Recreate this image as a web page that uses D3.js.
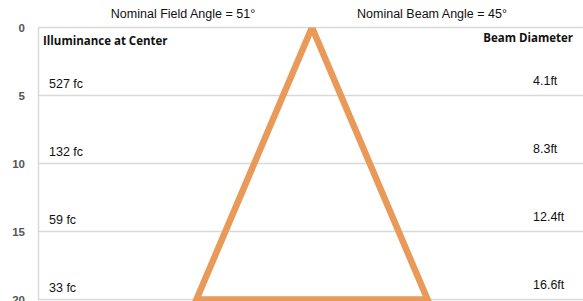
<!DOCTYPE html>
<html><head><meta charset="utf-8">
<script src="https://cdn.jsdelivr.net/npm/d3@7"></script>
<style>body{margin:0;background:#fff}svg{display:block}</style>
</head><body>
<svg id="c" width="583" height="301"></svg>
<script>
const depthTicks = [0, 5, 10, 15, 20];
const beamX = [0, -9.7, 9.7, 0];
const beamDepth = [0, 20, 20, 0];
const illumDepth = [5, 10, 15, 20];
const illumLabels = ["527 fc", "132 fc", "59 fc", "33 fc"];
const diamLabels = ["4.1ft", "8.3ft", "12.4ft", "16.6ft"];
const fieldTitle = "Nominal Field Angle = 51°";
const beamTitle = "Nominal Beam Angle = 45°";

const svg = d3.select("#c");
const W = 583, H = 301;
const y = d3.scaleLinear().domain([0, 20]).range([27.5, 299.5]);
const x = d3.scaleLinear().domain([-23, 23]).range([38, 586]);

// gridlines
svg.append("g").selectAll("line").data(depthTicks).join("line")
  .attr("x1", 38).attr("x2", W).attr("y1", d => y(d)).attr("y2", d => y(d))
  .attr("stroke", "#d9d9d9").attr("stroke-width", 1.5);
// axis
const ax = d3.axisLeft(y).tickValues(depthTicks).tickSize(0).tickPadding(13);
const g = svg.append("g").attr("transform", "translate(38,0)").call(ax);
g.select(".domain").attr("stroke", "#d9d9d9").attr("stroke-width", 1.5);
g.selectAll("text").attr("font-family", "Liberation Sans, Arial, sans-serif")
  .attr("font-size", 11.5).attr("font-weight", "bold").attr("fill", "#555");

// triangle
svg.append("clipPath").attr("id", "pc").append("rect")
  .attr("x", 38).attr("y", y(0)).attr("width", W - 38).attr("height", H);
const pts = beamX.map((v, i) => [v, beamDepth[i]]);
svg.append("path").datum(pts)
  .attr("clip-path", "url(#pc)")
  .attr("d", d3.line().x(d => x(d[0])).y(d => y(d[1])))
  .attr("fill", "none").attr("stroke", "#e99a58").attr("stroke-width", 6.5)
  .attr("stroke-linejoin", "miter");

const font = "Liberation Sans, Arial, sans-serif";
svg.append("text").attr("x", 183).attr("y", 18).attr("text-anchor", "middle")
  .attr("font-family", font).attr("font-size", 12.5).attr("fill", "#111").text(fieldTitle);
svg.append("text").attr("x", 432).attr("y", 18).attr("text-anchor", "middle")
  .attr("font-family", font).attr("font-size", 12.5).attr("fill", "#111").text(beamTitle);

svg.append("text").attr("x", 43).attr("y", 45)
  .attr("font-family", "Open Sans, sans-serif").attr("font-size", 11.5).attr("font-weight", "bold")
  .attr("fill", "#111").text("Illuminance at Center");
svg.append("text").attr("x", 573).attr("y", 42).attr("text-anchor", "end")
  .attr("font-family", "Open Sans, sans-serif").attr("font-size", 11.5).attr("font-weight", "bold")
  .attr("fill", "#111").text("Beam Diameter");

svg.append("g").selectAll("text").data(illumDepth).join("text")
  .attr("x", 49).attr("y", d => y(d) - 8)
  .attr("font-family", font).attr("font-size", 12.5).attr("fill", "#111")
  .text((d, i) => illumLabels[i]);
svg.append("g").selectAll("text").data(illumDepth).join("text")
  .attr("x", 533).attr("y", d => y(d) - 11)
  .attr("font-family", font).attr("font-size", 12.5).attr("fill", "#111")
  .text((d, i) => diamLabels[i]);
</script>
</body></html>
